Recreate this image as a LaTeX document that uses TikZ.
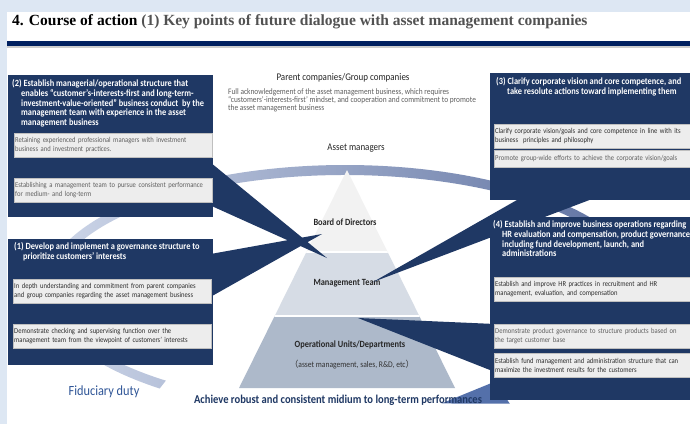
\documentclass[tikz,border=0pt]{standalone}
\usepackage{fontspec}
\setmainfont{Carlito}
\newfontfamily\slide[FakeStretch=0.88]{Carlito}
\newfontfamily\titlefont{Liberation Serif}
\newfontfamily\cjk{Noto Sans CJK JP}
\usetikzlibrary{calc}
\definecolor{navy}{RGB}{31,56,100}
\definecolor{barblue}{RGB}{0,32,96}
\definecolor{pageblue}{RGB}{221,231,243}
\definecolor{itemgray}{RGB}{237,237,237}
\definecolor{tierA}{RGB}{242,242,242}
\definecolor{tierB}{RGB}{214,220,229}
\definecolor{tierC}{RGB}{173,185,202}
\definecolor{ringL}{RGB}{214,222,238}
\definecolor{ringR}{RGB}{85,105,155}
\definecolor{arrowblue}{RGB}{84,112,170}
\definecolor{fidblue}{RGB}{47,85,151}
\definecolor{darktext}{RGB}{45,45,45}
\definecolor{greytext}{RGB}{95,95,95}

\begin{document}
\begin{tikzpicture}[x=1pt, y=-1pt, font=\slide,
  box/.style = {fill=navy, anchor=north west, inner sep=0pt},
  head/.style = {anchor=north west, text=white, align=left, inner sep=0pt, font=\slide\bfseries\fontsize{9.5}{9.9}\selectfont},
  item/.style = {fill=itemgray, draw=black!25, line width=0.4pt, anchor=north west, align=left, inner sep=1pt, text width=196pt, minimum height=24pt, text=darktext, font=\slide\fontsize{7.5}{9}\selectfont},
  tier/.style = {text=black!85, font=\slide\bfseries\fontsize{9.5}{11}\selectfont}]

% page
\useasboundingbox (0,0) rectangle (690,424);
\fill[pageblue] (0,0) rectangle (690,424);
\fill[white] (7,12) rectangle (690,424);
\node[anchor=west, inner sep=0pt, font=\titlefont\bfseries\fontsize{15.5}{17}\selectfont] (title) at (12,22)
  {4. Course of action \textcolor{black!68}{(1) Key points of future dialogue with asset management companies}};
\fill[black!20] (7,46) rectangle (690,48);
\fill[barblue] (7,41) rectangle (690,46);

% ring arrow behind everything
\coordinate (rc) at (345,290);
\shade[left color=ringL, right color=ringR]
  ($(rc)+(128:301 and 125)$) arc[start angle=128, end angle=418, x radius=301, y radius=125]
  -- ($(rc)+(418:291 and 115)$) arc[start angle=418, end angle=128, x radius=291, y radius=115] -- cycle;
\fill[arrowblue] ($(rc)+(418:283 and 108)$) -- ($(rc)+(431:296 and 120)$) -- ($(rc)+(418:311 and 134)$) -- cycle;

% pyramid
\coordinate (apex) at (347,170);
\coordinate (bl) at (239,388);
\coordinate (br) at (455,388);
\begin{scope}
  \clip (apex) -- (br) -- (bl) -- cycle;
  \fill[tierA] (200,165) rectangle (500,252);
  \fill[tierB] (200,252) rectangle (500,316);
  \fill[tierC] (200,316) rectangle (500,390);
  \draw[white, line width=1.6pt] (200,252) -- (500,252) (200,316) -- (500,316);
\end{scope}
\node[tier] (bod) at (345,222) {Board of Directors};
\node[tier] (mgmt) at (347,283) {Management Team};
\node[tier] (ops) at (350,345) {Operational Units/Departments};
\node[text=black!80, font=\slide\fontsize{8.6}{10}\selectfont] (opsnote) at (352,365) {{\cjk （}asset management, sales, R\&D, etc{\cjk ）}};

% callout wedges
\coordinate (tip2) at (327,258);
\coordinate (tip1) at (322,234);
\coordinate (tip3) at (373,282);
\coordinate (tip4) at (358,318);
\fill[navy] (205,158) -- (tip2) -- (205,203) -- cycle;
\fill[navy] (205,255) -- (tip1) -- (205,300) -- cycle;
\fill[navy] (524,196) -- (tip3) -- (600,196) -- cycle;
\fill[navy] (495,324) -- (tip4) -- (495,372) -- cycle;

% left boxes
\node[box, minimum width=205pt, minimum height=142pt] (b2) at (8,75) {};
\node[head] (h2) at (12,79) {(2) Establish managerial/operational structure that\\
  \hspace*{9pt}enables “customer’s-interests-first and long-term-\\
  \hspace*{9pt}investment-value-oriented” business conduct\ \ by the\\
  \hspace*{9pt}management team with experience in the asset\\
  \hspace*{9pt}management business};
\node[item, text=greytext] (i2a) at (14,133) {Retaining experienced professional managers with investment\\business and investment practices.};
\node[item, text=greytext] (i2b) at (14,178) {Establishing a management team to pursue consistent performance\\for medium- and long-term};

\node[box, minimum width=205pt, minimum height=126pt] (b1) at (8,239) {};
\node[head] (h1) at (14,242) {(1) Develop and implement a governance structure to\\
  \hspace*{9pt}prioritize customers’ interests};
\node[item] (i1a) at (13,279) {In depth understanding and commitment from parent companies\\and group companies regarding the asset management business};
\node[item] (i1b) at (13,324) {Demonstrate checking and supervising function over the\\management team from the viewpoint of customers’ interests};

% right boxes
\node[box, minimum width=200pt, minimum height=127pt] (b3) at (490,73) {};
\node[head] (h3) at (496,77) {(3) Clarify corporate vision and core competence, and\\
  \hspace*{11pt}take resolute actions toward implementing them};
\node[item] (i3a) at (494,124) {Clarify corporate vision/goals and core competence in line with its\\business\ \ principles and philosophy};
\node[item, text=greytext, minimum height=17pt] (i3b) at (494,150) {Promote group-wide efforts to achieve the corporate vision/goals};

\node[box, minimum width=200pt, minimum height=183pt] (b4) at (490,217) {};
\node[head] (h4) at (493,220) {(4) Establish and improve business operations regarding\\
  \hspace*{9pt}HR evaluation and compensation, product governance\\
  \hspace*{9pt}including fund development, launch, and\\
  \hspace*{9pt}administrations};
\node[item] (i4a) at (494,277) {Establish and improve HR practices in recruitment and HR\\management, evaluation, and compensation};
\node[item, text=greytext] (i4b) at (494,324) {Demonstrate product governance to structure products based on\\the target customer base};
\node[item] (i4c) at (494,353) {Establish fund management and administration structure that can\\maximize the investment results for the customers};

% centre texts
\node[text=black!85, font=\slide\fontsize{10.2}{12}\selectfont] (parent) at (343,78) {Parent companies/Group companies};
\node[anchor=north west, inner sep=0pt, align=left, text=greytext, font=\slide\fontsize{8.4}{8.3}\selectfont] (pnote) at (228,88)
  {Full acknowledgement of the asset management business, which requires\\
   “customers’-interests-first’ mindset, and cooperation and commitment to promote\\
   the asset management business};
\node[text=black!85, font=\slide\fontsize{10.2}{12}\selectfont] (amgr) at (356,148) {Asset managers};
\node[text=fidblue, font=\slide\fontsize{14}{16}\selectfont] (fid) at (104,392) {Fiduciary duty};
\node[text=navy, font=\slide\bfseries\fontsize{12}{14}\selectfont] (goal) at (338,400) {Achieve robust and consistent midium to long-term performances};

\end{tikzpicture}
\end{document}
